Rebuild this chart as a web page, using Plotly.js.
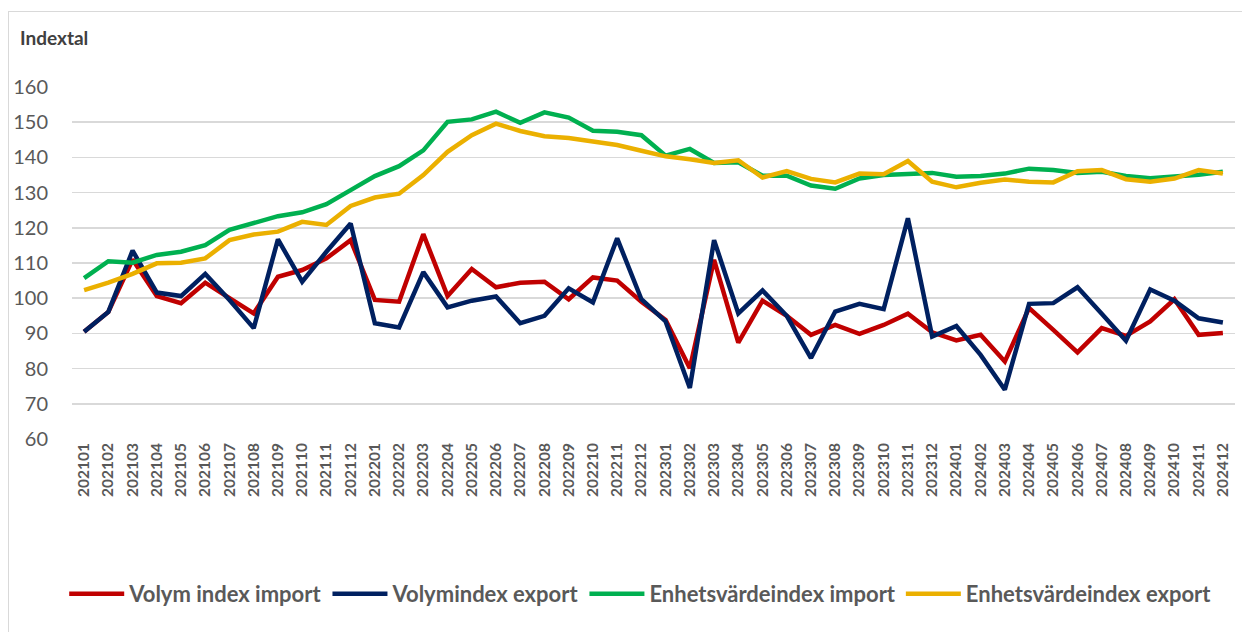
<!DOCTYPE html>
<html>
<head>
<meta charset="utf-8">
<script src="https://cdn.plot.ly/plotly-3.0.1.min.js"></script>
<style>
html,body{margin:0;padding:0;background:#fff;}
#frame{position:absolute;left:8px;top:11px;width:1240px;height:640px;border:1px solid #D9D9D9;}
#chart{position:absolute;left:0;top:0;width:1242px;height:632px;}
</style>
</head>
<body>
<div id="frame"></div>
<div id="chart"></div>
<script>
const months = ["202101","202102","202103","202104","202105","202106","202107","202108","202109","202110","202111","202112",
"202201","202202","202203","202204","202205","202206","202207","202208","202209","202210","202211","202212",
"202301","202302","202303","202304","202305","202306","202307","202308","202309","202310","202311","202312",
"202401","202402","202403","202404","202405","202406","202407","202408","202409","202410","202411","202412"];

const volymImport = [90.5,96.1,111,100.6,98.6,104.4,100,95.7,106.1,108,111.3,116.5,
99.5,99,118.2,100.6,108.3,103.1,104.4,104.7,99.7,105.9,105,99,
93.8,80.1,110.9,87.4,99.3,95,89.6,92.4,89.9,92.4,95.6,90.3,
88,89.6,82,97.2,91,84.6,91.5,89.3,93.4,99.7,89.6,90.1];

const volymExport = [90.5,96.1,113.5,101.6,100.6,106.9,99.5,91.5,116.7,104.7,113.2,121.2,
92.9,91.7,107.4,97.4,99.3,100.5,92.9,95,102.8,98.8,117,99.7,
93.4,74.5,116.5,95.7,102.2,95,83,96.2,98.4,96.9,122.7,89.1,
92.1,83.9,74,98.4,98.6,103.1,95.6,87.9,102.5,99.3,94.3,93.1];

const enhetImport = [105.7,110.5,110.1,112.3,113.2,115.1,119.4,121.2,123.3,124.4,126.7,130.7,
134.7,137.5,142,150.1,150.8,153,149.8,152.8,151.3,147.6,147.3,146.3,
140.5,142.4,138.4,138.6,134.8,134.8,132,131.1,134,135,135.4,135.6,
134.5,134.7,135.4,136.8,136.4,135.6,135.9,134.7,134.1,134.5,135.1,135.9];

const enhetExport = [102.3,104.4,106.9,109.9,110.1,111.3,116.5,118.1,118.9,121.7,120.8,126.2,
128.6,129.7,135,141.6,146.3,149.6,147.5,146,145.5,144.4,143.5,141.9,
140.3,139.5,138.4,139.2,134.3,136.1,133.9,132.9,135.4,135.2,139,133.1,
131.5,132.8,133.7,133.1,132.9,136.1,136.4,133.8,133.1,134,136.4,135.4];

const seriesNames = ["Volym index import","Volymindex export","Enhetsvärdeindex import","Enhetsvärdeindex export"];
const seriesColors = ["#C00000","#002060","#00B050","#EBB000"];
const seriesData = [volymImport, volymExport, enhetImport, enhetExport];

const traces = seriesData.map((d,i)=>({
  type:'scatter', mode:'lines', x:months, y:d, name:seriesNames[i],
  line:{color:seriesColors[i], width:4.5, shape:'linear'},
  hoverinfo:'skip'
}));

const layout = {
  width:1242, height:632,
  margin:{l:72,r:7,t:87,b:193},
  paper_bgcolor:'rgba(0,0,0,0)', plot_bgcolor:'rgba(0,0,0,0)',
  font:{family:'Lato, "Open Sans", sans-serif', color:'#595959'},
  title:{text:'<b>Indextal</b>', x:20/1242, xanchor:'left', xref:'container', y:1-38/632, yanchor:'middle', yref:'container',
         font:{size:19, color:'#404040', family:'Lato, "Open Sans", sans-serif'}},
  xaxis:{type:'category', tickangle:-90, showgrid:false, zeroline:false, showline:false, ticks:'',
         tickfont:{size:15.5, color:'#595959', family:'Lato, "Open Sans", sans-serif', weight:'bold'},
         range:[-0.5, months.length-0.5], fixedrange:true},
  yaxis:{range:[60,160], dtick:10, tick0:60, showgrid:true, gridcolor:'#D9D9D9', gridwidth:1.5, zeroline:false,
         showline:false, ticks:'', tickfont:{size:20, color:'#595959'}, ticklabelstandoff:23, fixedrange:true},
  showlegend:true,
  legend:{orientation:'h', x:0.489, xanchor:'center', y:-0.44, yanchor:'middle',
          font:{size:22, color:'#595959', weight:'bold'}, itemwidth:55, tracegroupgap:0},
  hovermode:false
};

Plotly.newPlot('chart', traces, layout, {displayModeBar:false, staticPlot:true});
</script>
</body>
</html>
